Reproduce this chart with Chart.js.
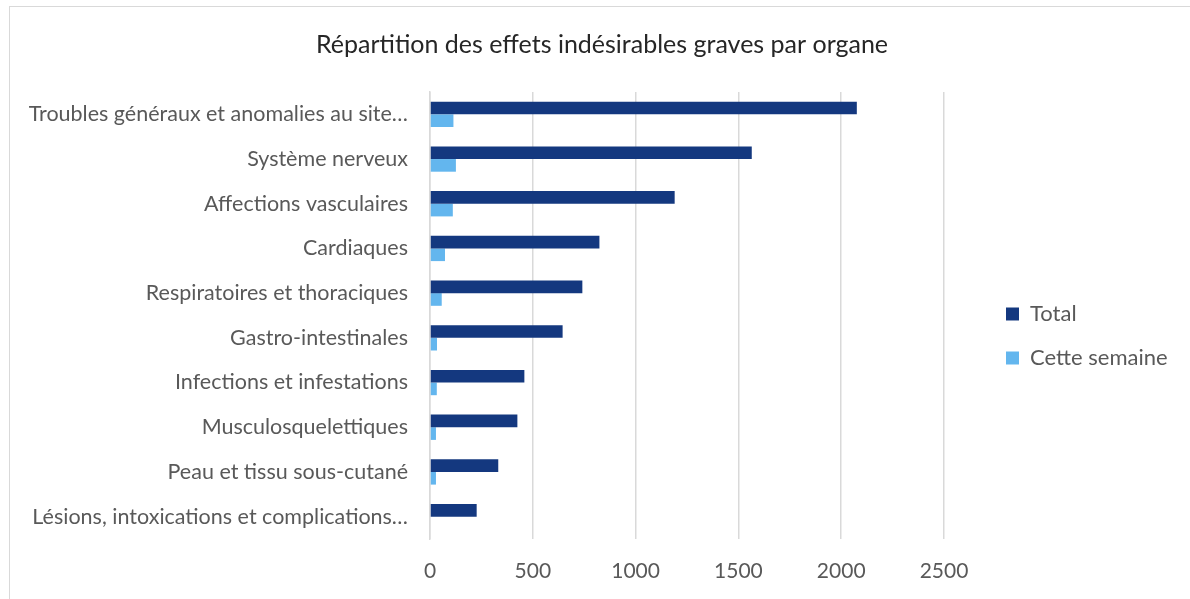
<!DOCTYPE html>
<html>
<head>
<meta charset="utf-8">
<script src="https://cdn.jsdelivr.net/npm/chart.js@4"></script>
<style>
  html, body { margin: 0; padding: 0; background: #fff; overflow: hidden; }
  #frame { position: absolute; left: 9px; top: 6px; width: 1300px; height: 700px;
           border-left: 1px solid #d9d9d9; border-top: 1px solid #d9d9d9; }
  #wrap { position: absolute; left: 0; top: 0; width: 1190px; height: 599px; }
</style>
</head>
<body>
<div id="frame"></div>
<div id="wrap"><canvas id="chart"></canvas></div>
<script>
// categories, top to bottom
const organes = [
  'Troubles généraux et anomalies au site…',
  'Système nerveux',
  'Affections vasculaires',
  'Cardiaques',
  'Respiratoires et thoraciques',
  'Gastro-intestinales',
  'Infections et infestations',
  'Musculosquelettiques',
  'Peau et tissu sous-cutané',
  'Lésions, intoxications et complications…'
];
const totalValues = [2076, 1565, 1190, 824, 741, 645, 459, 425, 332, 227];
const semaineValues = [114, 126, 111, 73, 57, 34, 33, 29, 29, 0];
const xTicks = [0, 500, 1000, 1500, 2000, 2500];

const FONT = 'Lato, Carlito, Calibri, sans-serif';
const GREY = '#595959';

document.addEventListener('DOMContentLoaded', function () {
  const ctx = document.getElementById('chart').getContext('2d');
  new Chart(ctx, {
    type: 'bar',
    data: {
      labels: organes,
      datasets: [
        { label: 'Total', data: totalValues, backgroundColor: '#14387F' },
        { label: 'Cette semaine', data: semaineValues, backgroundColor: '#63B6EE' }
      ]
    },
    options: {
      indexAxis: 'y',
      responsive: true,
      maintainAspectRatio: false,
      animation: false,
      datasets: { bar: { categoryPercentage: 0.566, barPercentage: 1.0 } },
      layout: { padding: { left: 29, right: 15, top: 0, bottom: -5 } },
      plugins: {
        title: {
          display: true,
          text: 'Répartition des effets indésirables graves par organe',
          color: '#262626',
          font: { family: FONT, size: 25, weight: 'normal' },
          padding: { top: 30, bottom: 32 }
        },
        legend: {
          position: 'right',
          title: { display: true, text: '', font: { size: 10 }, padding: { top: 56, bottom: 0 } },
          labels: {
            color: GREY,
            font: { family: FONT, size: 22 },
            boxWidth: 13,
            boxHeight: 13,
            padding: 22
          }
        },
        tooltip: { enabled: false }
      },
      scales: {
        x: {
          min: 0,
          max: 2500,
          afterBuildTicks: function (scale) {
            scale.ticks = xTicks.map(function (v) { return { value: v }; });
          },
          grid: { color: '#d9d9d9', lineWidth: 1.5, drawTicks: false },
          border: { display: false },
          ticks: {
            color: GREY,
            font: { family: FONT, size: 21, lineHeight: 1.0 },
            padding: 22,
            callback: function (v) { return String(v); }
          }
        },
        y: {
          grid: { display: false, drawTicks: false },
          border: { display: true, color: '#d9d9d9', width: 1.5 },
          ticks: { color: GREY, font: { family: FONT, size: 21.5 }, padding: 22, autoSkip: false },
          afterFit: function (scale) { scale.width = 401; }
        },
        // empty spacer between plot and legend
        gap: {
          type: 'category',
          axis: 'y',
          position: 'right',
          grid: { display: false, drawTicks: false },
          border: { display: false },
          ticks: { display: false },
          afterFit: function (scale) { scale.width = 40; }
        }
      }
    }
  });
});
</script>
</body>
</html>
